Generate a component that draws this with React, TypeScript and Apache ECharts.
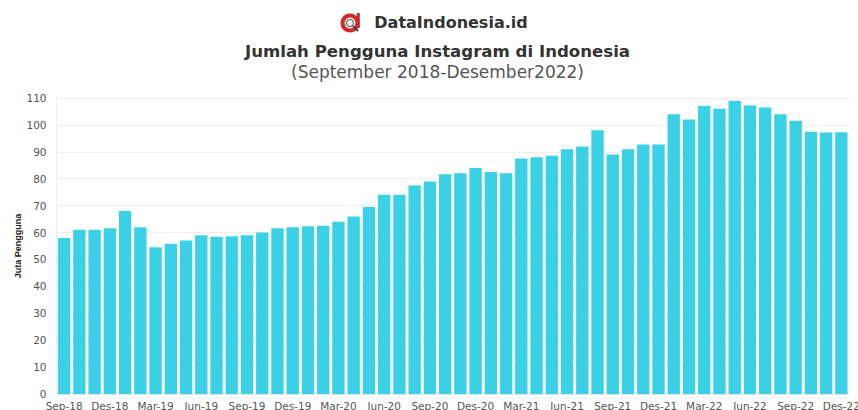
import React, { useEffect, useRef } from "react";
import * as echarts from "echarts";

const months = ["Sep","Okt","Nov","Des","Jan","Feb","Mar","Apr","Mei","Jun","Jul","Agu"];
const categories: string[] = [];
for (let i = 0; i < 52; i++) {
  const m = months[i % 12];
  const y = 18 + Math.floor((i + 8) / 12);
  categories.push(`${m}-${y}`);
}
const users = [
  58, 61, 61, 61.6, 68, 62, 54.5, 55.8, 57, 59, 58.4, 58.6,
  59, 60, 61.6, 62, 62.3, 62.5, 64, 66, 69.5, 74, 74, 77.5,
  79, 81.7, 82, 84, 82.5, 82, 87.5, 88, 88.5, 91, 92, 98,
  89, 91, 92.7, 92.7, 104, 102, 107, 106, 109, 107.2, 106.5, 104,
  101.5, 97.5, 97.2, 97.3,
];
const brand = "DataIndonesia.id";
const titleText = "Jumlah Pengguna Instagram di Indonesia";
const subtitleText = "(September 2018-Desember2022)";
const yAxisName = "Juta Pengguna";

const FONT = "'DejaVu Sans', sans-serif";

export default function App() {
  const ref = useRef<HTMLDivElement>(null);
  useEffect(() => {
    if (!ref.current) return;
    const chart = echarts.init(ref.current, null, { renderer: "svg" });
    chart.setOption({
      animation: false,
      backgroundColor: "#ffffff",
      grid: { left: 56.5, right: 9, top: 98, height: 296, containLabel: false, outerBoundsMode: "none" },
      xAxis: {
        type: "category",
        data: categories,
        axisTick: { show: false },
        axisLine: { show: true, lineStyle: { color: "#e6e6e6" } },
        axisLabel: {
          interval: 2,
          color: "#555555",
          fontFamily: FONT,
          fontSize: 10.5,
          margin: 6,
          hideOverlap: false,
        },
      },
      yAxis: {
        type: "value",
        min: 0,
        max: 110,
        interval: 10,
        name: yAxisName,
        nameLocation: "middle",
        nameGap: 34,
        nameRotate: 90,
        nameMoveOverlap: false,
        nameTextStyle: {
          fontFamily: "'Liberation Sans Narrow', 'Liberation Sans', sans-serif",
          fontWeight: "bold",
          fontSize: 9,
          color: "#222222",
        },
        axisLine: { show: true, lineStyle: { color: "#eeeeee" } },
        axisTick: { show: false },
        axisLabel: { color: "#555555", fontFamily: FONT, fontSize: 10.5, margin: 10 },
        splitLine: { lineStyle: { color: "#efefef" } },
      },
      series: [
        {
          type: "bar",
          data: users,
          barCategoryGap: "19%",
          itemStyle: { color: "#3ad0e6" },
        },
      ],
      graphic: [
        { type: "circle", shape: { cx: 350, cy: 23, r: 7.5 }, style: { fill: "none", stroke: "#d6282b", lineWidth: 4 } },
        { type: "circle", shape: { cx: 350, cy: 23, r: 3.5 }, style: { fill: "#ffffff", stroke: "#7a7a7a", lineWidth: 1.5 } },
        { type: "line", shape: { x1: 353, y1: 26, x2: 358, y2: 31 }, style: { stroke: "#444444", lineWidth: 2 } },
        { type: "rect", shape: { x: 357, y: 13, width: 2.8, height: 15 }, style: { fill: "#c42a2c" } },
        {
          type: "text", x: 451, y: 22,
          style: { text: brand, fill: "#333333", font: `bold 16px ${FONT}`, align: "center", verticalAlign: "middle" },
        },
        {
          type: "text", x: 437.5, y: 51,
          style: { text: titleText, fill: "#333333", font: `bold 16.6px ${FONT}`, align: "center", verticalAlign: "middle" },
        },
        {
          type: "text", x: 437.5, y: 72,
          style: { text: subtitleText, fill: "#555555", font: `17px ${FONT}`, align: "center", verticalAlign: "middle" },
        },
      ],
    });
    return () => chart.dispose();
  }, []);
  return (
    <div
      ref={ref}
      style={{ position: "fixed", left: 0, top: 0, width: 858, height: 410 }}
    />
  );
}
